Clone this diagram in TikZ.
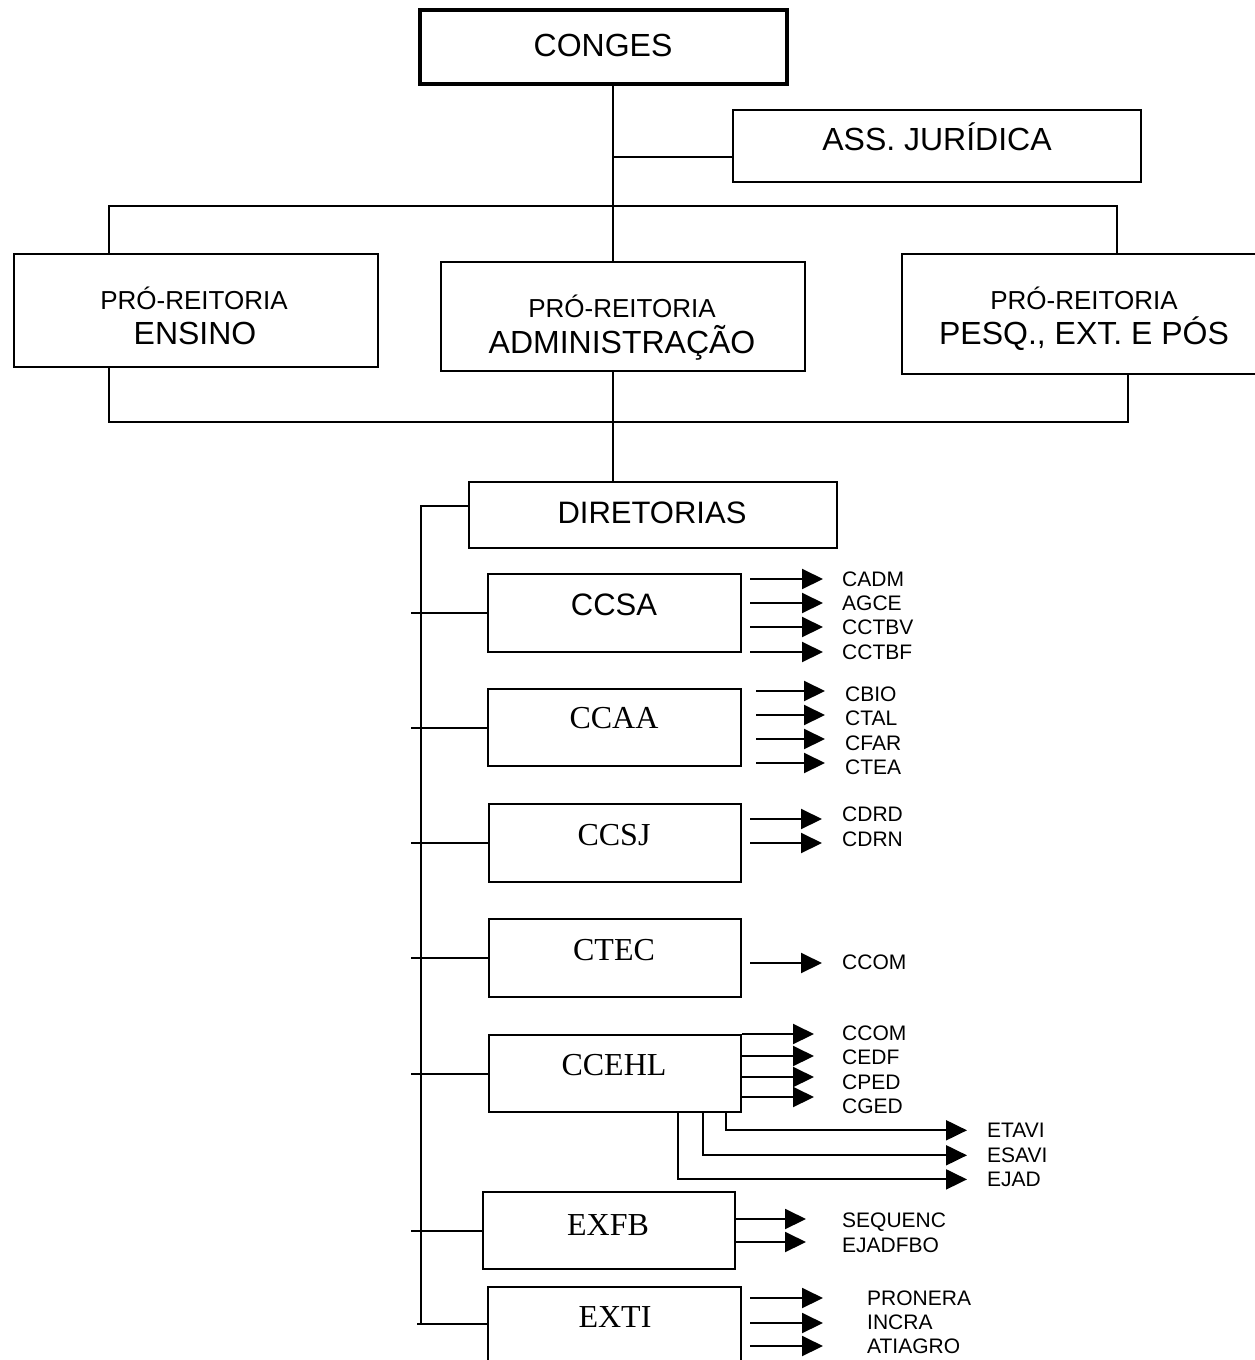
\documentclass[tikz,border=0pt]{standalone}
\usepackage{fontspec}
\setmainfont{Liberation Sans}
\newfontfamily\seriffam{Liberation Serif}
\usetikzlibrary{arrows.meta}

% box given by its corners: [options]{name}{x1}{y1}{x2}{y2}
\newcommand\orgbox[6][]{%
  \node[box,#1,minimum width=#5pt-#3pt,minimum height=#6pt-#4pt]
    (#2) at ({(#3+#5)/2},{(#4+#6)/2}) {};}

% list of arrows with their labels: {prefix}{tail x}{label x}{gap}{arrow y/label y/text,...}
\newcommand\branchlist[5]{%
  \foreach \ay/\ly/\txt [count=\i] in {#5} {
    \coordinate (#1-a\i) at (#2,\ay);
    \node[sub] (#1-l\i) at (#3,\ly) {\txt};
    \draw[arr, shorten >=#4pt] (#1-a\i) -- (#1-a\i -| #1-l\i.west);
  }}

\begin{document}
\begin{tikzpicture}[x=1pt,y=-1pt,
  box/.style={draw, line width=2.5pt, inner sep=0pt},
  link/.style={line width=2pt},
  arr/.style={line width=2pt, -{Triangle[length=21pt,width=20pt]}},
  % text centred on the middle of its capitals
  sanstxt/.style={inner sep=0pt, anchor=base, yshift={-0.358*#1},
    font=\fontsize{#1}{#1}\selectfont},
  seriftxt/.style={inner sep=0pt, anchor=base, yshift={-0.331*#1},
    font=\seriffam\fontsize{#1}{#1}\selectfont},
  sub/.style={inner sep=0pt, anchor=base west, yshift={-0.358*21},
    font=\fontsize{21}{21}\selectfont}]

\useasboundingbox (0,0) rectangle (1254,1360);

% ---------- upper level ----------
\orgbox[line width=4pt]{conges}{420}{10}{787}{84}
\node[sanstxt=32] (congesT) at (603,45) {CONGES};

\orgbox{ass}{733}{110}{1141}{182}
\node[sanstxt=32] (assT) at (937,139) {ASS. JURÍDICA};

\orgbox{ensino}{14}{254}{378}{367}
\node[sanstxt=26] (ensinoT1) at (194,300) {PRÓ-REITORIA};
\node[sanstxt=32] (ensinoT2) at (195,333) {ENSINO};

\orgbox{adm}{441}{262}{805}{371}
\node[sanstxt=26] (admT1) at (622,308) {PRÓ-REITORIA};
\node[sanstxt=32] (admT2) at (622,342) {ADMINISTRAÇÃO};

\orgbox{pesq}{902}{254}{1275}{374}
\node[sanstxt=26] (pesqT1) at (1084,300) {PRÓ-REITORIA};
\node[sanstxt=32] (pesqT2) at (1084,333) {PESQ., EXT. E PÓS};

% main spine and buses
\coordinate (spine) at (613,0);
\coordinate (assJ) at (613,157);
\coordinate (tl) at (109,206);
\coordinate (tr) at (1117,206);
\coordinate (bl) at (109,422);
\coordinate (br) at (1128,422);

\draw[link] (conges.south -| spine) -- (adm.north -| spine);
\draw[link] (assJ) -- (assJ -| ass.west);
\draw[link] (ensino.north -| tl) -- (tl) -- (tr) -- (pesq.north -| tr);
\draw[link] (ensino.south -| bl) -- (bl) -- (br) -- (pesq.south -| br);

% ---------- diretorias ----------
\orgbox{dir}{469}{482}{837}{548}
\node[sanstxt=31] (dirT) at (652,512) {DIRETORIAS};
\draw[link] (adm.south -| spine) -- (dir.north -| spine);

\orgbox{ccsa}{488}{574}{741}{652}
\node[sanstxt=31] (ccsaT) at (614,604) {CCSA};
\orgbox{ccaa}{488}{689}{741}{766}
\node[seriftxt=32] (ccaaT) at (614,718) {CCAA};
\orgbox{ccsj}{489}{804}{741}{882}
\node[seriftxt=32] (ccsjT) at (614,835) {CCSJ};
\orgbox{ctec}{489}{919}{741}{997}
\node[seriftxt=32] (ctecT) at (614,950) {CTEC};
\orgbox{ccehl}{489}{1035}{741}{1112}
\node[seriftxt=32] (ccehlT) at (614,1065) {CCEHL};
\orgbox{exfb}{483}{1192}{735}{1269}
\node[seriftxt=32] (exfbT) at (608,1225) {EXFB};
\orgbox{exti}{488}{1287}{741}{1400}
\node[seriftxt=32] (extiT) at (615,1317) {EXTI};

% left bus with its ticks
\coordinate (dj) at (421,506);
\coordinate (bb) at (421,1324);
\coordinate (tk) at (411,0);
\draw[link] (dj -| dir.west) -- (dj) -- (bb) -- (bb -| exti.west);
\draw[link] (bb) -- ++(-4,0);
\foreach \b in {ccsa,ccaa,ccsj,ctec,ccehl,exfb}
  \draw[link] (\b.west) -- (\b.west -| tk);

% ---------- courses ----------
\branchlist{ccsa}{750}{842}{19}{579/579/CADM,603/603/AGCE,627/627/CCTBV,652/652/CCTBF}
\branchlist{ccaa}{756}{845}{20}{691/694/CBIO,715/718/CTAL,739/743/CFAR,763/767/CTEA}
\branchlist{ccsj}{750}{842}{20}{819/814/CDRD,843/839/CDRN}
\branchlist{ctec}{750}{842}{20}{963/962/CCOM}
\branchlist{ccehl}{742}{842}{28}{1034/1033/CCOM,1056/1057/CEDF,1077/1082/CPED,1097/1106/CGED}
\branchlist{exfb}{735}{842}{36}{1219/1220/SEQUENC,1242/1245/EJADFBO}
\branchlist{exti}{750}{867}{44}{1298/1298/PRONERA,1323/1322/INCRA,1346/1346/ATIAGRO}

% schools reached from the bottom of CCEHL
\node[sub] (etavi) at (987,1130) {ETAVI};
\node[sub] (esavi) at (987,1155) {ESAVI};
\node[sub] (ejad)  at (987,1179) {EJAD};
\draw[arr, shorten >=20pt] ([xshift=111pt]ccehl.south) |- (etavi.west);
\draw[arr, shorten >=20pt] ([xshift=88pt]ccehl.south) |- (esavi.west);
\draw[arr, shorten >=20pt] ([xshift=63pt]ccehl.south) |- (ejad.west);

\end{tikzpicture}
\end{document}
